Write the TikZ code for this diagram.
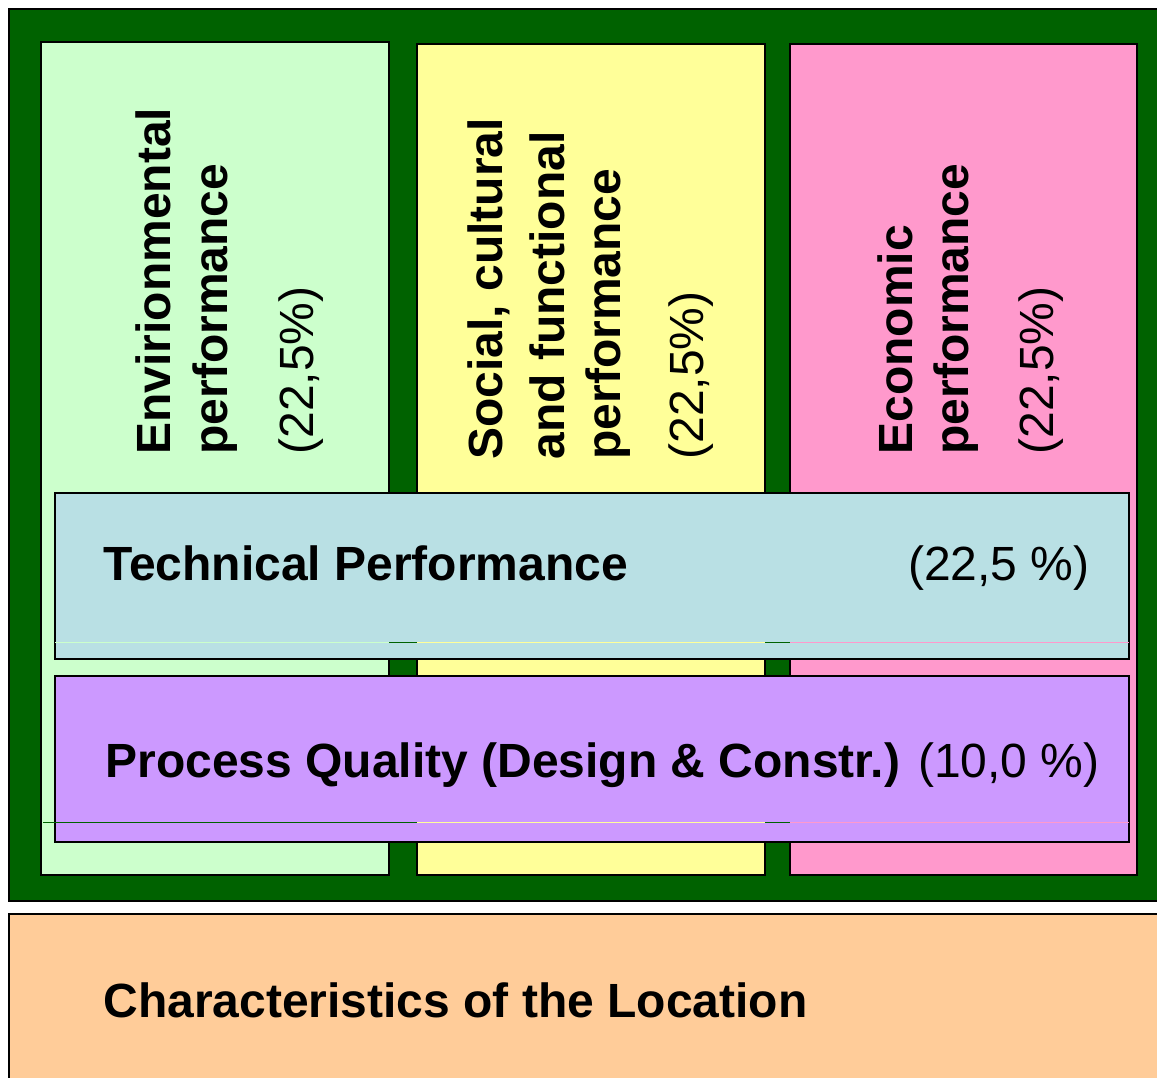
\documentclass[tikz,border=0pt]{standalone}
\usepackage{fontspec}
\setmainfont{Liberation Sans}
\definecolor{darkgreen}{RGB}{0,98,0}
\definecolor{envgreen}{RGB}{204,255,204}
\definecolor{socyellow}{RGB}{255,255,153}
\definecolor{ecopink}{RGB}{255,153,204}
\definecolor{techblue}{RGB}{185,224,228}
\definecolor{procviolet}{RGB}{204,153,255}
\definecolor{locorange}{RGB}{255,204,153}
\tikzset{
    box/.style={draw=black,line width=1pt},
    label/.style={inner sep=0pt,font=\fontsize{24}{28}\selectfont},
    uplabel/.style={label,rotate=90,anchor=base west}
}
\begin{document}
\begin{tikzpicture}[x=0.5pt,y=-0.5pt]
\useasboundingbox (0,0) rectangle (1157,1077);
% frame and location
\draw[box,fill=darkgreen] (9,9) rectangle (1170,901);
\draw[box,fill=locorange] (9,914) rectangle (1170,1090);
% three pillars
\foreach \xa/\xb/\ya/\col in {41/389/42/envgreen,417/765/44/socyellow,790/1137/44/ecopink}
{
    \draw[box,fill=\col] (\xa,\ya) rectangle (\xb,875);
}
% cross-cutting bands
\draw[box,fill=techblue] (55,493) rectangle (1129,659);
\draw[box,fill=procviolet] (55,676) rectangle (1129,842);
\foreach \xa/\xb/\col in {55/389/envgreen,389/417/darkgreen,417/765/socyellow,765/790/darkgreen,790/1129/ecopink}
{
    \draw[\col,line width=0.5pt] (\xa,642)--(\xb,642);
}
\foreach \xa/\xb/\col in {43/417/darkgreen,417/765/socyellow,765/790/darkgreen,790/1129/ecopink}
{
    \draw[\col,line width=0.5pt] (\xa,822)--(\xb,822);
}
% pillar texts
\node (env1) at (170,455) [uplabel]{\bfseries Envirionmental};
\node (env2) at (227,455) [uplabel]{\bfseries performance};
\node (env3) at (313,455) [uplabel]{(22,5\%)};
\node (soc1) at (502,460) [uplabel]{\bfseries Social, cultural};
\node (soc2) at (564,460) [uplabel]{\bfseries and functional};
\node (soc3) at (620,460) [uplabel]{\bfseries performance};
\node (soc4) at (703,460) [uplabel]{(22,5\%)};
\node (eco1) at (912,455) [uplabel]{\bfseries Economic};
\node (eco2) at (968,455) [uplabel]{\bfseries performance};
\node (eco3) at (1053,455) [uplabel]{(22,5\%)};
% band texts
\node (tech) at (103,580) [label,anchor=base west]{\bfseries Technical Performance};
\node (techw) at (1090,580) [label,anchor=base east]{(22,5 \%)};
\node (proc) at (105,777) [label,anchor=base west]{\bfseries Process Quality (Design \& Constr.)\mdseries{} (10,0 \%)};
\node (loc) at (103,1017) [label,anchor=base west]{\bfseries Characteristics of the Location};
\end{tikzpicture}
\end{document}
